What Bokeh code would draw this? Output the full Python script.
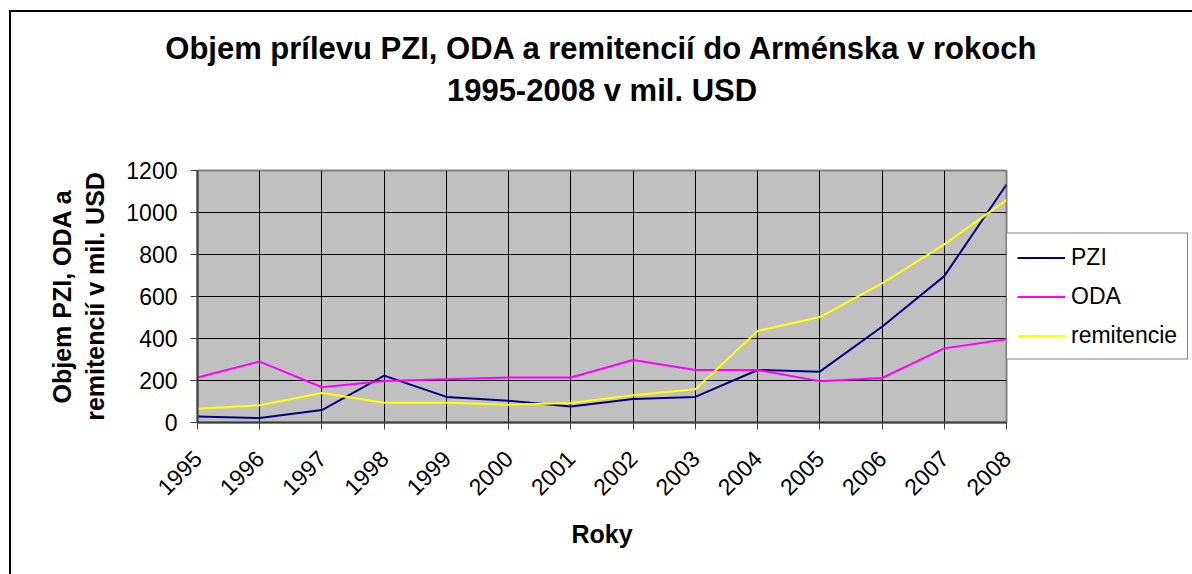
from math import pi
from bokeh.plotting import figure
from bokeh.layouts import column
from bokeh.models import (Range1d, FixedTicker, Legend, LegendItem, LinearAxis,
                          ColumnDataSource)
from bokeh.embed import file_html
from bokeh.resources import INLINE

# ---- data ----
years = [1995, 1996, 1997, 1998, 1999, 2000, 2001, 2002, 2003, 2004, 2005, 2006, 2007, 2008]
year_labels = [str(y) for y in years]
pzi = [28, 21, 59, 223, 122, 104, 76, 112, 122, 250, 242, 456, 697, 1133]
oda = [214, 290, 168, 198, 206, 214, 214, 298, 250, 250, 197, 212, 353, 396]
remitencie = [65, 82, 140, 94, 94, 84, 93, 130, 158, 436, 502, 662, 848, 1059]
y_ticks = [0, 200, 400, 600, 800, 1000, 1200]
series_names = ["PZI", "ODA", "remitencie"]
series_colors = ["#000080", "#FF00FF", "#FFFF00"]

title_text = "Objem prílevu PZI, ODA a remitencií do Arménska v rokoch\n1995-2008 v mil. USD"
x_title = "Roky"
y_title = "Objem PZI, ODA a\nremitencií v mil. USD"

FONT = "Liberation Sans"

p = figure(frame_width=809, frame_height=252, output_backend="svg", toolbar_location=None,
           x_range=Range1d(years[0], years[-1]), y_range=Range1d(0, 1200),
           min_border_left=186, min_border_right=186, min_border_top=158,
           min_border_bottom=152)

p.background_fill_color = "#C0C0C0"
p.border_fill_color = "white"
p.outline_line_color = "#808080"
p.outline_line_width = 2

# grids
p.xgrid.ticker = FixedTicker(ticks=years)
p.ygrid.ticker = FixedTicker(ticks=y_ticks)
for g in (p.xgrid, p.ygrid):
    g.grid_line_color = "black"
    g.grid_line_width = 1

# axes
p.xaxis.ticker = FixedTicker(ticks=years)
p.xaxis.major_label_overrides = {y: l for y, l in zip(years, year_labels)}
p.yaxis.ticker = FixedTicker(ticks=y_ticks)
for ax in (p.xaxis, p.yaxis):
    ax.axis_line_color = "#404040"
    ax.axis_line_width = 2
    ax.major_tick_line_color = "#404040"
    ax.major_tick_line_width = 1
    ax.major_tick_in = 0
    ax.major_tick_out = 7
    ax.minor_tick_line_color = None
    ax.major_label_text_font = FONT
    ax.major_label_text_font_size = "23px"
    ax.major_label_text_color = "black"
    ax.axis_label_text_font = FONT
    ax.axis_label_text_font_size = "25px"
    ax.axis_label_text_font_style = "bold"
    ax.axis_label_text_color = "black"

p.xaxis.major_label_orientation = pi / 4
p.xaxis.major_label_standoff = 25
p.xaxis.axis_label = x_title
p.xaxis.axis_label_standoff = 14
p.yaxis.major_label_standoff = 13
p.yaxis.axis_label = y_title
p.yaxis.axis_label_standoff = 14

# chart title drawn as the label of an empty axis above the plot
title_axis = LinearAxis(ticker=FixedTicker(ticks=[]), axis_label=title_text,
                        axis_line_color=None, major_tick_line_color=None,
                        minor_tick_line_color=None, major_tick_out=0,
                        major_tick_in=0, major_label_standoff=0,
                        axis_label_standoff=63,
                        axis_label_text_font=FONT, axis_label_text_font_size="31px",
                        axis_label_text_font_style="bold",
                        axis_label_text_color="black")
p.add_layout(title_axis, "above")

# lines
src = ColumnDataSource(data=dict(years=years, PZI=pzi, ODA=oda, remitencie=remitencie))
renderers = []
for name, color in zip(series_names, series_colors):
    r = p.line("years", name, source=src, line_color=color, line_width=2)
    renderers.append(r)

legend = Legend(items=[LegendItem(label=n, renderers=[r]) for n, r in zip(series_names, renderers)],
                location="left", ncols=1)
legend.label_text_font = FONT
legend.label_text_font_size = "23px"
legend.label_text_color = "black"
legend.label_height = 26
legend.glyph_height = 26
legend.glyph_width = 48
legend.label_standoff = 6
legend.spacing = 12
legend.padding = 10
legend.margin = 0
legend.border_line_color = "black"
legend.border_line_width = 1
legend.background_fill_color = "white"
legend.background_fill_alpha = 1
p.add_layout(legend, "right")

page = column(p, styles={"margin-left": "9px", "margin-top": "10px",
                         "border-left": "2px solid black",
                         "border-top": "2px solid black"})

open("out.html", "w").write(file_html(page, INLINE))
